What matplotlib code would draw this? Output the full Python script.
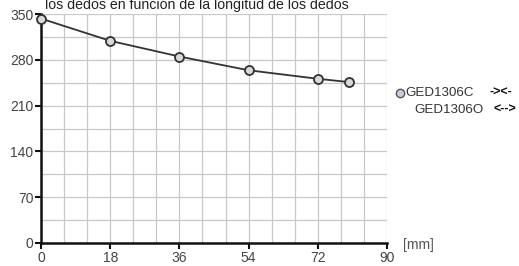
import matplotlib.pyplot as plt
import numpy as np

plt.rcParams['font.family'] = ['Liberation Sans', 'DejaVu Sans']

# finger length [mm] vs gripping force
x_mm = [0, 18, 36, 54, 72, 80]
force = [343, 309, 285, 264, 251, 246]
x_ticks = [0, 18, 36, 54, 72, 90]
y_ticks = [0, 70, 140, 210, 280, 350]
title = "los dedos en función de la longitud de los dedos"

fig = plt.figure(figsize=(5.19, 2.66), dpi=100)
ax = fig.add_axes([41/519, 1 - 243/266, (387 - 41)/519, (243 - 14)/266])

ax.set_xlim(0, 90)
ax.set_ylim(0, 350)
ax.set_xticks(x_ticks)
ax.set_yticks(y_ticks)
ax.set_xticks(np.arange(0, 91, 6), minor=True)
ax.set_yticks(np.arange(0, 351, 35), minor=True)
ax.grid(True, which='both', color='#c8c8c8', lw=0.9, zorder=0)
ax.tick_params(which='minor', length=0)
ax.tick_params(which='major', length=4, width=1.5, color='#111111',
               labelsize=10, labelcolor='#444444', pad=1.5)
for s in ['top', 'right']:
    ax.spines[s].set_visible(False)
for s in ['left', 'bottom']:
    ax.spines[s].set_linewidth(1.8)
    ax.spines[s].set_color('#111111')
ax.set_axisbelow(True)

ax.plot(x_mm, force, color='#333333', lw=1.3, marker='o', ms=6.5,
        mfc='#d9d9d9', mec='#333333', mew=1.3, zorder=3, clip_on=False)

fig.text(45/519, 1 - 9/266, title, fontsize=10.2, color='#222222', va='baseline')
fig.text(403/519, 1 - 245/266, "[mm]", fontsize=10, color='#555555', va='center')

# legend
fig.lines.append(plt.Line2D([400/519], [1 - 93/266], transform=fig.transFigure,
                            marker='o', ms=6, mfc='#ccccdc', mec='#555555', mew=1))
fig.text(405/519, 1 - 93/266, "GED1306C", fontsize=9.6, color='#333333', va='center')
fig.text(489/519, 1 - 93/266, "-><-", fontsize=9, color='#111111', va='center', weight='bold')
fig.text(414/519, 1 - 110/266, "GED1306O", fontsize=9.6, color='#333333', va='center')
fig.text(493/519, 1 - 110/266, "<-->", fontsize=9, color='#111111', va='center', weight='bold')

fig.savefig('out.png', dpi=100)
